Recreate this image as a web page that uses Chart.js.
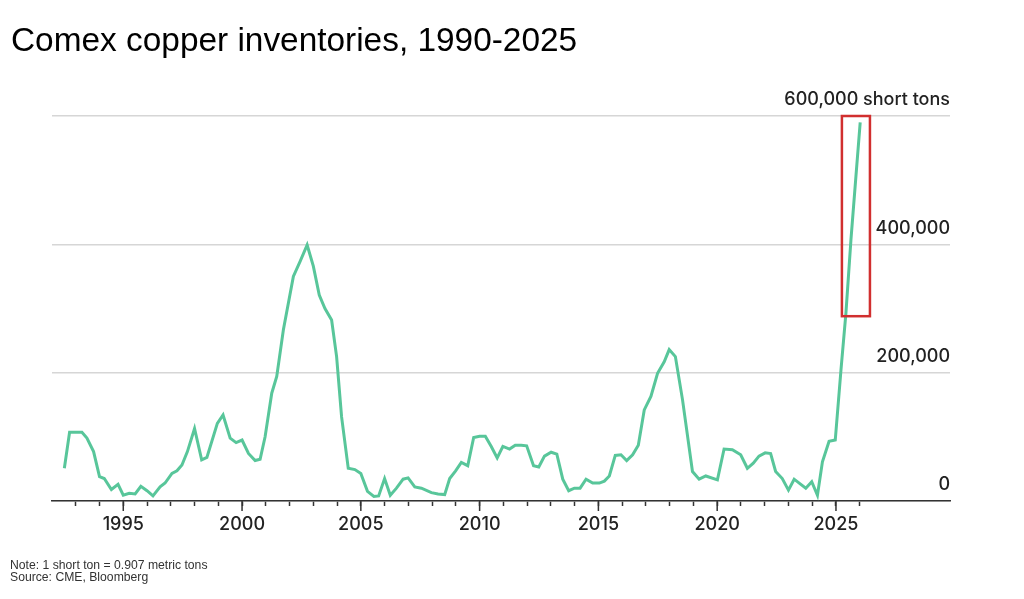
<!DOCTYPE html>
<html>
<head>
<meta charset="utf-8">
<title>Comex copper inventories</title>
<script src="https://cdn.jsdelivr.net/npm/chart.js@4.4.1/dist/chart.umd.min.js"></script>
<style>
  html, body { margin: 0; padding: 0; background: #fff; }
  #wrap { position: relative; width: 1024px; height: 599px; overflow: hidden; }
  #chart { position: absolute; left: 0; top: 0; }
  #title {
    position: absolute; left: 11px; top: 23px;
    font-family: "Liberation Sans", Arial, sans-serif;
    font-size: 33.4px; line-height: 33px; color: #000; white-space: nowrap;
  }
  #note {
    position: absolute; left: 10px; top: 559px;
    font-family: "Liberation Sans", Arial, sans-serif;
    font-size: 12.2px; line-height: 12px; color: #333; white-space: nowrap;
  }
</style>
</head>
<body>
<div id="wrap">
  <canvas id="chart" width="1024" height="599"></canvas>
  <div id="title">Comex copper inventories, 1990-2025</div>
  <div id="note">Note: 1 short ton = 0.907 metric tons<br>Source: CME, Bloomberg</div>
</div>
<script>
"use strict";

// dates as decimal years, inventories in short tons
const years = [
  1992.52, 1992.74, 1993.26, 1993.47, 1993.75, 1994.0, 1994.2, 1994.5, 1994.78,
  1995.0, 1995.25, 1995.5, 1995.74, 1996.0, 1996.25, 1996.55, 1996.76,
  1997.05, 1997.26, 1997.47, 1997.7, 1998.0, 1998.3, 1998.52, 1998.96,
  1999.2, 1999.5, 1999.75, 2000.0, 2000.27, 2000.55, 2000.76, 2000.97,
  2001.25, 2001.46, 2001.74, 2002.16, 2002.44, 2002.74, 2003.0, 2003.25,
  2003.49, 2003.77, 2003.98, 2004.19, 2004.47, 2004.75, 2005.0, 2005.28,
  2005.55, 2005.75, 2006.0, 2006.24, 2006.5, 2006.78, 2006.99, 2007.27,
  2007.55, 2007.97, 2008.25, 2008.53, 2008.74, 2008.99, 2009.23, 2009.5,
  2009.75, 2010.0, 2010.24, 2010.49, 2010.74, 2010.98, 2011.26, 2011.5,
  2011.75, 2011.98, 2012.27, 2012.49, 2012.73, 2013.01, 2013.25, 2013.5,
  2013.75, 2013.99, 2014.23, 2014.48, 2014.76, 2015.04, 2015.25, 2015.46,
  2015.71, 2015.95, 2016.19, 2016.44, 2016.68, 2016.93, 2017.21, 2017.49,
  2017.77, 2017.98, 2018.24, 2018.54, 2018.96, 2019.24, 2019.52, 2020.01,
  2020.29, 2020.64, 2020.99, 2021.27, 2021.52, 2021.76, 2022.02, 2022.25,
  2022.46, 2022.74, 2023.0, 2023.24, 2023.48, 2023.73, 2023.98, 2024.22,
  2024.43, 2024.71, 2024.97, 2025.21, 2025.42, 2025.63, 2025.84, 2026.02
];

const inventory = [
  51000, 107000, 107000, 98000, 77000, 38000, 35000, 18000, 26000,
  9000, 12000, 11000, 23000, 16000, 8000, 22000, 28000,
  43000, 47000, 56000, 77000, 113000, 64000, 68000, 121000,
  134000, 98000, 91000, 95000, 74000, 63000, 65000, 100000,
  168000, 194000, 267000, 350000, 373000, 399000, 366000, 321000,
  300000, 282000, 225000, 131000, 51000, 49000, 43000, 15000,
  7000, 8000, 35000, 9000, 20000, 34000, 36000, 22000,
  20000, 13000, 11000, 10000, 35000, 47000, 60000, 55000,
  99000, 101000, 101000, 85000, 67000, 85000, 81000, 87000,
  87000, 86000, 55000, 53000, 70000, 76000, 73000, 34000,
  16000, 20000, 20000, 34000, 28000, 28000, 31000, 39000,
  71000, 72000, 63000, 72000, 87000, 142000, 163000, 199000,
  217000, 236000, 225000, 158000, 46000, 34000, 39000, 33000,
  81000, 80000, 72000, 51000, 59000, 70000, 75000, 74000,
  46000, 35000, 17000, 34000, 27000, 20000, 30000, 9000,
  61000, 93000, 95000, 204000, 293000, 407000, 506000, 590000
];

const tickYears = [];
for (let y = 1993; y <= 2026; y++) {
  tickYears.push(y);
}
const tickValues = [0, 200000, 400000, 600000];

// highlighted recent surge
const boxYears = [2025.25, 2026.43];
const boxTons = [288000, 600000];

const points = [];
for (let i = 0; i < years.length; i++) {
  points.push({ x: years[i], y: inventory[i] });
}

const axisFont = { family: "Inter, 'Liberation Sans', Arial, sans-serif", size: 18, weight: 500 };

const extras = {
  id: "extras",
  afterDraw(chart) {
    const ctx = chart.ctx;
    const xs = chart.scales.x;
    const ys = chart.scales.y;
    const bottom = chart.chartArea.bottom;

    // longer ticks every five years
    ctx.save();
    ctx.strokeStyle = "#333";
    ctx.lineWidth = 1.5;
    ctx.beginPath();
    for (let i = 0; i < tickYears.length; i++) {
      if (tickYears[i] % 5 === 0) {
        const px = xs.getPixelForValue(tickYears[i]);
        ctx.moveTo(px, bottom);
        ctx.lineTo(px, bottom + 10);
      }
    }
    ctx.stroke();

    // red box
    const x1 = xs.getPixelForValue(boxYears[0]);
    const x2 = xs.getPixelForValue(boxYears[1]);
    const y1 = ys.getPixelForValue(boxTons[1]);
    const y2 = ys.getPixelForValue(boxTons[0]);
    ctx.strokeStyle = "#d12f2f";
    ctx.lineWidth = 2.5;
    ctx.strokeRect(x1, y1, x2 - x1, y2 - y1);
    ctx.restore();
  }
};

new Chart(document.getElementById("chart"), {
  type: "line",
  data: {
    datasets: [{
      data: points,
      borderColor: "#58c69a",
      borderWidth: 3,
      pointRadius: 0,
      tension: 0,
      fill: false
    }]
  },
  options: {
    responsive: false,
    animation: false,
    layout: { padding: { left: 52, right: 74, top: 116, bottom: 58 } },
    plugins: {
      legend: { display: false },
      tooltip: { enabled: false }
    },
    scales: {
      x: {
        type: "linear",
        min: 1992,
        max: 2029.8,
        afterBuildTicks: (scale) => {
          scale.ticks = tickYears.map((v) => ({ value: v }));
        },
        afterFit: (scale) => {
          scale.height = 40;
        },
        ticks: {
          autoSkip: false,
          maxRotation: 0,
          padding: 8,
          color: "#222",
          font: axisFont,
          callback: (value) => (value % 5 === 0 ? String(value) : "")
        },
        grid: {
          drawOnChartArea: false,
          drawTicks: true,
          tickLength: 5,
          tickColor: "#333",
          tickWidth: 1.5
        },
        border: { display: true, color: "#333", width: 1.5 }
      },
      y: {
        position: "right",
        min: 0,
        max: 600000,
        afterBuildTicks: (scale) => {
          scale.ticks = tickValues.map((v) => ({ value: v }));
        },
        afterFit: (scale) => {
          scale.width = 0;
        },
        ticks: {
          mirror: true,
          padding: 0,
          labelOffset: -16,
          color: "#222",
          font: axisFont,
          callback: (value) =>
            value === 600000 ? "600,000 short tons" : value.toLocaleString("en-US")
        },
        grid: {
          color: "#d6d6d6",
          lineWidth: 1.5,
          drawTicks: false
        },
        border: { display: false }
      }
    }
  },
  plugins: [extras]
});
</script>
</body>
</html>
